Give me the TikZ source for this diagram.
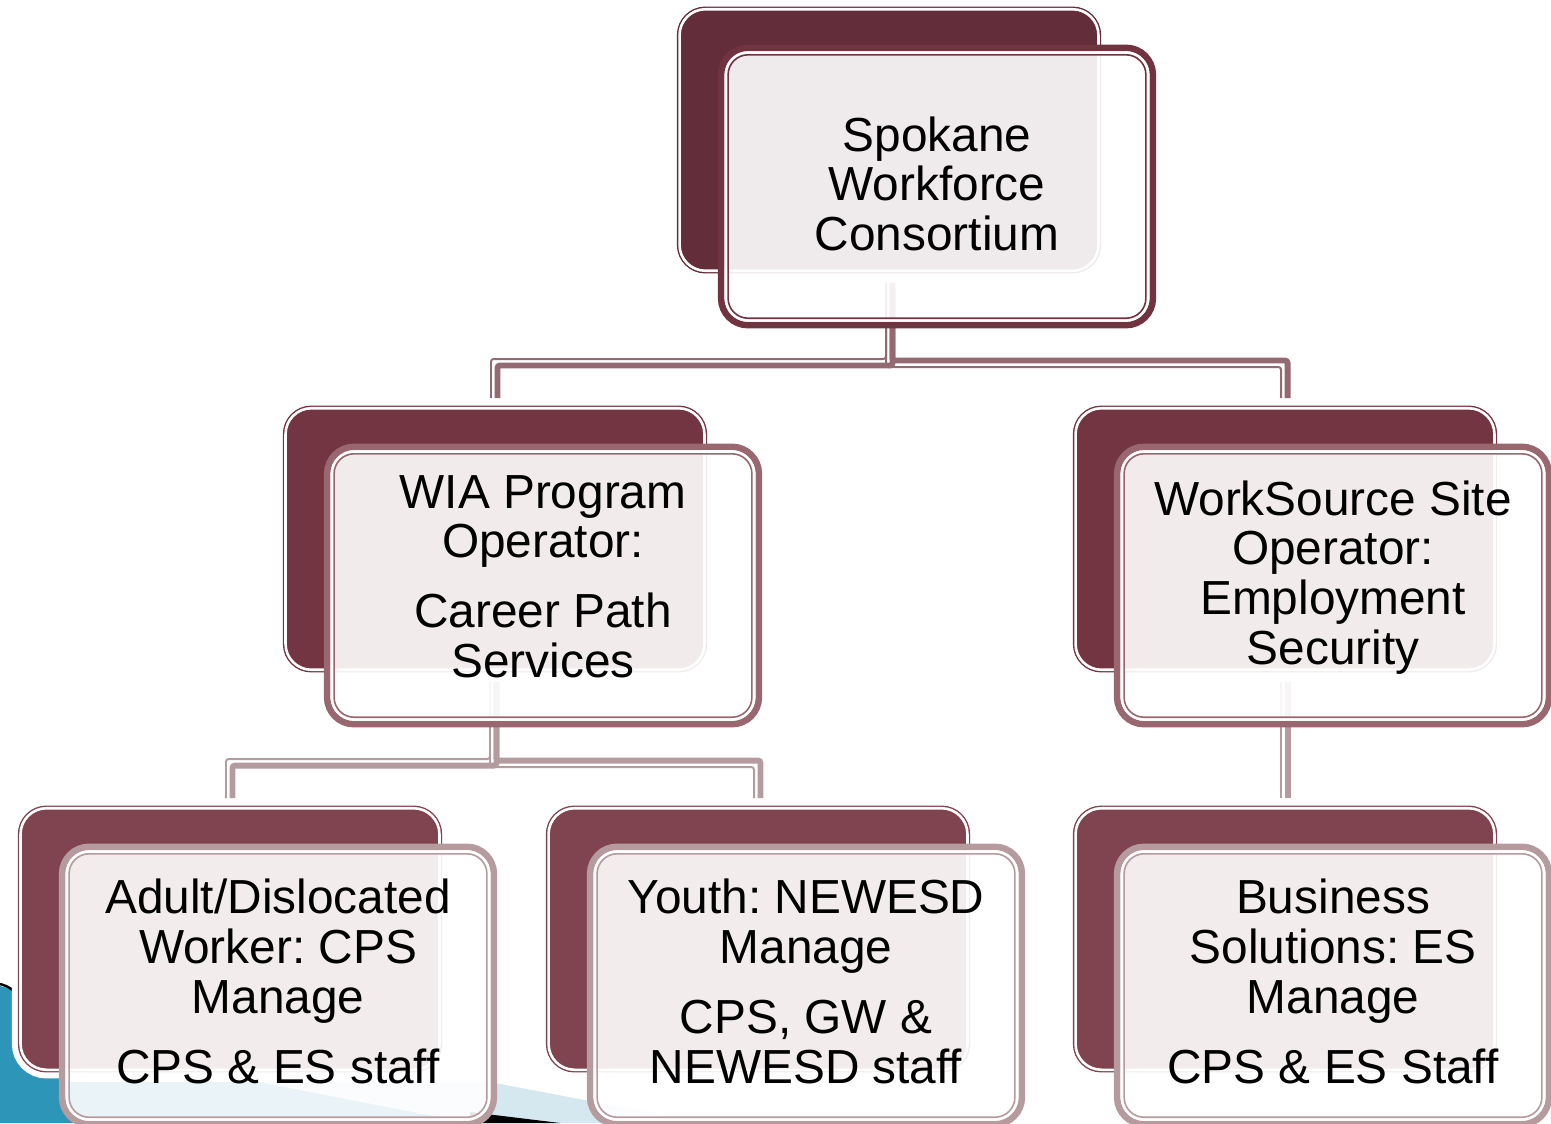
\documentclass[tikz,border=0pt]{standalone}
\usepackage{fontspec}
\setmainfont{Liberation Sans}
\frenchspacing
\usetikzlibrary{calc}
\definecolor{backA}{HTML}{632D3A}
\definecolor{frontA}{HTML}{723340}
\definecolor{backB}{HTML}{733542}
\definecolor{frontB}{HTML}{98676F}
\definecolor{backC}{HTML}{7F4450}
\definecolor{frontC}{HTML}{B59A9E}
\definecolor{connA}{HTML}{946971}
\definecolor{connB}{HTML}{B49B9F}
\definecolor{tealdeco}{HTML}{2D96B8}
\definecolor{lightdeco}{HTML}{D5E8EF}
\pgfdeclarelayer{deco}
\pgfdeclarelayer{backl}
\pgfdeclarelayer{connl}
\pgfsetlayers{deco,backl,connl,main}
\tikzset{
  backbox/.style={fill=#1, draw=#1, line width=0.79pt, rounded corners=15.87pt,
    minimum width=240.72pt, minimum height=151.14pt, inner sep=0pt, outer sep=0pt,
    preaction={draw=white, line width=7.6pt}},
  frontbox/.style={fill=white, fill opacity=0.9, draw=#1, draw opacity=1,
    line width=3.69pt, rounded corners=15.31pt,
    minimum width=245.76pt, minimum height=157.89pt, inner sep=0pt, outer sep=0pt},
  boxtext/.style={inner sep=0pt, outer sep=0pt, align=center, text=black,
    font=\fontsize{27.2pt}{28.35pt}\selectfont},
  thickconn/.style={line width=3.4pt, rounded corners=1.5pt},
  thinconn/.style={line width=1.13pt, rounded corners=1.5pt}
}
% white inner ring of a back box
\newcommand\backring[1]{%
  \draw[white, line width=1.47pt, rounded corners=14.74pt]
    ([shift={(2,2)}]#1.north west) rectangle ([shift={(-2,-2)}]#1.south east);}
% inner rings of a front box
\newcommand\frontrings[2]{%
  \draw[white, line width=1.42pt, rounded corners=12.76pt]
    ([shift={(4.75,4.75)}]#1.north west) rectangle ([shift={(-4.75,-4.75)}]#1.south east);
  \draw[#2, line width=0.91pt, rounded corners=11.34pt]
    ([shift={(7,7)}]#1.north west) rectangle ([shift={(-7,-7)}]#1.south east);}
% elbow connector: #1 start coord, #2 child node, #3 horizontal-level coord,
% #4 thick dy, #5 thin dy, #6 colour
\newcommand\elbow[6]{%
  \draw[thickconn, #6] ($(#1)+(2.5,10)$) -- ($(#1 |- #3)+(2.5,#4)$)
    -- ($(#2.north |- #3)+(2.5,#4)$) -- ($(#2.north)+(2.5,-8)$);
  \draw[thinconn, #6] ($(#1)+(-4,10)$) -- ($(#1 |- #3)+(-4,#5)$)
    -- ($(#2.north |- #3)+(-4,#5)$) -- ($(#2.north)+(-4,-8)$);}
\begin{document}
\begin{tikzpicture}[x=0.02cm, y=-0.02cm]
\useasboundingbox (0,0) rectangle (1551,1123);
\clip (0,0) rectangle (1551,1123);

% background decoration
\begin{pgfonlayer}{deco}
  \fill[tealdeco] (0,986) .. controls (25,992) and (50,1010) .. (60,1040)
    -- (60,1082) -- (260,1082) -- (470,1123) -- (0,1123) -- cycle;
  \fill[lightdeco] (260,1082) -- (490,1082) -- (705,1123) -- (470,1123) -- cycle;
  \draw[black, line width=1.4pt] (0,984) .. controls (8,986) and (14,990) .. (22,998);
  \fill[black] (470,1112) -- (560,1123) -- (470,1123) -- cycle;
\end{pgfonlayer}

% back boxes
\begin{pgfonlayer}{backl}
  \node[backbox=backA] (b1)  at (889,140) {};
  \node[backbox=backB] (b2l) at (495,539) {};
  \node[backbox=backB] (b2r) at (1285,539) {};
  \node[backbox=backC] (b3l) at (230,939) {};
  \node[backbox=backC] (b3m) at (758,939) {};
  \node[backbox=backC] (b3r) at (1285,939) {};
  \backring{b1}\backring{b2l}\backring{b2r}
  \backring{b3l}\backring{b3m}\backring{b3r}
\end{pgfonlayer}

% connectors
\coordinate (h1) at (0,363);
\coordinate (h2) at (0,763);
\path ($(b2l.north)!0.5!(b2r.north)$) coordinate (m1);
\coordinate (s1) at (m1 |- b1.south);
\path ($(b3l.north)!0.5!(b3m.north)$) coordinate (m2);
\coordinate (s2) at (m2 |- b2l.south);
\begin{pgfonlayer}{connl}
  \elbow{s1}{b2l}{h1}{2.5}{-4}{connA}
  \elbow{s1}{b2r}{h1}{-2.5}{4}{connA}
  \elbow{s2}{b3l}{h2}{2.5}{-4}{connB}
  \elbow{s2}{b3m}{h2}{-2.5}{4}{connB}
  \draw[thickconn, connB] ($(b2r.south)+(2.5,10)$) -- ($(b3r.north)+(2.5,-8)$);
  \draw[thinconn, connB] ($(b2r.south)+(-4,10)$) -- ($(b3r.north)+(-4,-8)$);
\end{pgfonlayer}

% front boxes
\node[frontbox=frontA] (f1) at ($(b1)+(48,46.5)$) {};
\frontrings{f1}{frontA}
\node[frontbox=frontB] (f2l) at ($(b2l)+(48,46.5)$) {};
\frontrings{f2l}{frontB}
\node[frontbox=frontB] (f2r) at ($(b2r)+(48,46.5)$) {};
\frontrings{f2r}{frontB}
\node[frontbox=frontC] (f3l) at ($(b3l)+(48,46.5)$) {};
\frontrings{f3l}{frontC}
\node[frontbox=frontC] (f3m) at ($(b3m)+(48,46.5)$) {};
\frontrings{f3m}{frontC}
\node[frontbox=frontC] (f3r) at ($(b3r)+(48,46.5)$) {};
\frontrings{f3r}{frontC}

% texts
\node[boxtext] (t1) at ($(f1)+(0,-2.6)$) {Spokane\\Workforce\\Consortium};
\node[boxtext] (t2l) at ($(f2l)+(0,-9)$) {WIA Program\\Operator:\\[11.3pt]Career Path\\Services};
\node[boxtext] (t2r) at ($(f2r)+(0,-8)$) {WorkSource Site\\Operator:\\Employment\\Security};
\node[boxtext] (t3l) at ($(f3l)+(0,-4)$) {Adult/Dislocated\\Worker: CPS\\Manage\\[11.3pt]CPS \& ES staff};
\node[boxtext] (t3m) at ($(f3m)+(0,-4)$) {Youth: NEWESD\\Manage\\[11.3pt]CPS, GW \&\\NEWESD staff};
\node[boxtext] (t3r) at ($(f3r)+(0,-4)$) {Business\\Solutions: ES\\Manage\\[11.3pt]CPS \& ES Staff};
\end{tikzpicture}
\end{document}
